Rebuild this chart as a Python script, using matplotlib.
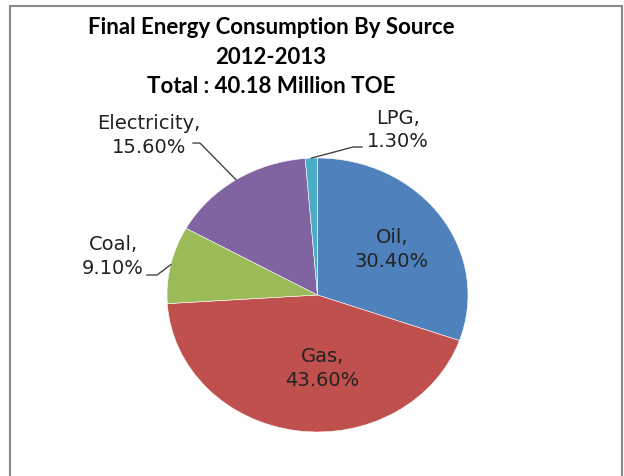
import numpy as np
import matplotlib
matplotlib.use('Agg')
import matplotlib.pyplot as plt
from matplotlib.patches import Rectangle

# data
sources = ['Oil', 'Gas', 'Coal', 'Electricity', 'LPG']
shares = [30.4, 43.6, 9.1, 15.6, 1.3]
colors = ['#4F81BD', '#C0504D', '#9BBB59', '#8064A2', '#4BACC6']

title = 'Final Energy Consumption By Source\n2012-2013\nTotal : 40.18 Million TOE'

# label spots (axes data coords) - excel puts them by hand more or less
label_pos = {'Oil': (0.495, 0.339), 'Gas': (0.030, -0.529),
             'Coal': (-1.359, 0.288), 'Electricity': (-1.12, 1.172),
             'LPG': (0.535, 1.212)}
# leader lines: knee points, the last point goes to the wedge edge
leader = {'Coal': [(-1.133, 0.146), (-1.066, 0.146)],
          'Electricity': [(-0.827, 1.109), (-0.781, 1.109)],
          'LPG': [(0.296, 1.080), (0.236, 1.080)]}

W, H = 624, 477
fig = plt.figure(figsize=(W / 100, H / 100), dpi=100)

# chart frame
fig.patches.append(Rectangle((10 / W, -0.05), 612 / W, 1.05 - 7 / H,
                             transform=fig.transFigure, fill=False,
                             edgecolor='#8a8a8a', lw=1.5))

# pie is a bit squashed in the original, so no equal aspect
ax = fig.add_axes([(317.5 - 150.5) / W, 44 / H, 301 / W, 274 / H])
wedges, _ = ax.pie(shares, colors=colors, startangle=90, counterclock=False,
                   wedgeprops=dict(edgecolor='white', linewidth=0.4))
ax.set_aspect('auto')
ax.set_xlim(-1, 1)
ax.set_ylim(-1, 1)
ax.axis('off')

for w, name, val in zip(wedges, sources, shares):
    x, y = label_pos[name]
    ax.text(x, y, f'{name},\n{val:.2f}%', ha='center', va='center',
            fontsize=14, color='#222222', linespacing=1.3, clip_on=False)
    if name in leader:
        mid = np.deg2rad((w.theta1 + w.theta2) / 2)
        pts = leader[name] + [(np.cos(mid), np.sin(mid))]
        xs, ys = zip(*pts)
        ax.plot(xs, ys, color='#444444', lw=1, clip_on=False)

fig.text(271 / W, 1 - 57 / H, title, ha='center', va='center',
         fontsize=16, fontweight='bold', family='Lato', linespacing=1.5)

fig.savefig('out.png', dpi=100)
